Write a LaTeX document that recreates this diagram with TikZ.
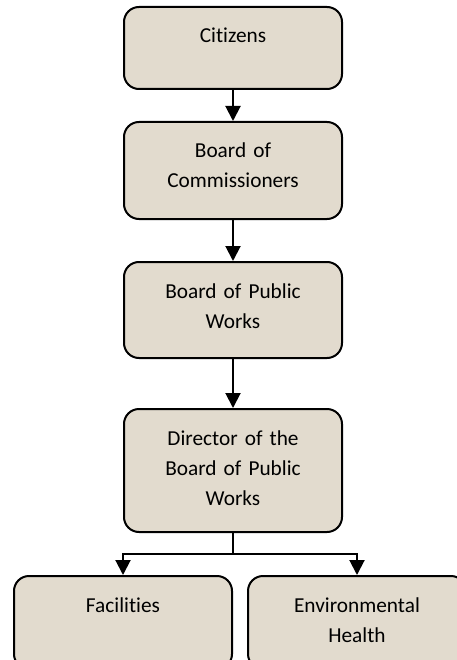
\documentclass[tikz,border=0pt]{standalone}
\usepackage{fontspec}
\setmainfont{Carlito}[Ligatures=NoCommon]
\usetikzlibrary{positioning,arrows.meta}

\definecolor{boxfill}{RGB}{226,219,206}

\begin{document}
\begin{tikzpicture}[x=1pt,y=-1pt,node distance=31pt]
    \tikzset{orgbox/.style={draw, line width=2pt, fill=boxfill, rounded corners=15pt,
                 anchor=north, text width=204pt, minimum width=218pt, align=center,
                 inner xsep=7pt, inner ysep=0pt, text height=36pt, text depth=#1,
                 font=\fontsize{21.3}{30}\selectfont},
             link/.style={line width=2pt, -{Triangle[width=15pt,length=15pt]}}}

    \useasboundingbox (0,0) rectangle (456,660);

    \node[orgbox=46pt] (cit) at (233,6) {Citizens};
    \node[orgbox=61pt] (boc) [below=31pt of cit] {Board of\\Commissioners};
    \node[orgbox=60pt] (bpw) [below=41pt of boc] {Board of Public\\Works};
    \node[orgbox=87pt] (dir) [below=49pt of bpw] {Director of the\\Board of Public\\Works};
    \node[orgbox=57pt] (fac) [below=42pt of dir, xshift=-110pt] {Facilities};
    \node[orgbox=57pt] (env) [below=42pt of dir, xshift=124pt] {Environmental\\Health};

    \draw[link] (cit) -- (boc);
    \draw[link] (boc) -- (bpw);
    \draw[link] (bpw) -- (dir);
    \draw[line width=2pt] (dir.south) -- ++(0,21) coordinate (split);
    \draw[link] (split) -| (fac);
    \draw[link] (split) -| (env);
\end{tikzpicture}
\end{document}
